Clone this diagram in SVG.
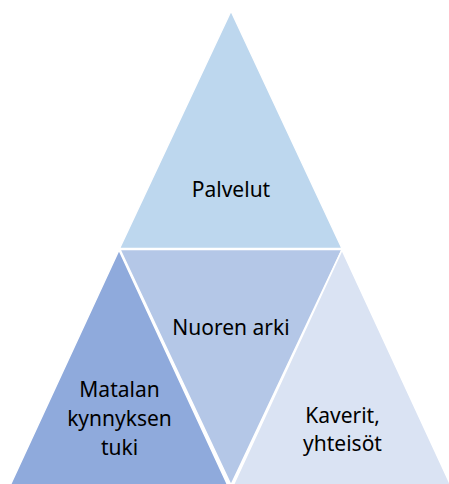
<svg xmlns="http://www.w3.org/2000/svg" width="449" height="484" viewBox="0 0 449 484">
<style>
.t{stroke:#fff;stroke-width:1.5;stroke-linejoin:miter}
.l{font-family:"Noto Sans","Open Sans",sans-serif;font-size:21px;fill:#000;text-anchor:middle}
</style>
<rect width="449" height="484" fill="#fff"/>
<g id="palvelut">
<polygon class="t" points="231,11 119.5,248.5 342,248.5" fill="#BDD7EE"/>
<text class="l" x="231" y="197">Palvelut</text>
</g>
<g id="nuoren-arki">
<polygon class="t" points="120,249.5 342,249.5 231,485" fill="#B4C7E7"/>
<text class="l" x="231" y="335">Nuoren arki</text>
</g>
<g id="matalan">
<polygon class="t" points="119,250 8,490 230,490" fill="#8FAADC"/>
<text class="l" x="119.5" y="397">Matalan</text>
<text class="l" x="119.5" y="426">kynnyksen</text>
<text class="l" x="119.5" y="455">tuki</text>
</g>
<g id="kaverit">
<polygon class="t" points="342,250 231,490 453,490" fill="#DAE3F3"/>
<text class="l" x="342.5" y="423">Kaverit,</text>
<text class="l" x="342.5" y="451">yhteisöt</text>
</g>
<g id="connectors"></g>
</svg>
